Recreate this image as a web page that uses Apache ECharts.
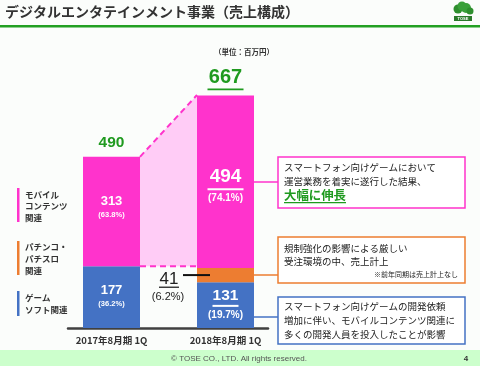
<!DOCTYPE html>
<html><head><meta charset="utf-8">
<script src="https://cdn.jsdelivr.net/npm/echarts@6/dist/echarts.min.js"></script>
<style>html,body{margin:0;padding:0;background:#fbfdfb}#c{width:480px;height:366px}</style>
</head><body><div id="c"></div>
<script>
// ---- data ----
const categories = ['2017年8月期 1Q', '2018年8月期 1Q'];
const gameSoft = [177, 131];
const gameSoftPct = ['36.2%', '19.7%'];
const pachinko = [null, 41];
const pachinkoPct = [null, '6.2%'];
const mobile = [313, 494];
const mobilePct = ['63.8%', '74.1%'];
const totals = [490, 667];
const legendMobile = ['モバイル', 'コンテンツ', '関連'];
const legendPachinko = ['パチンコ・', 'パチスロ', '関連'];
const legendGame = ['ゲーム', 'ソフト関連'];
const noteMobile = ['スマートフォン向けゲームにおいて', '運営業務を着実に遂行した結果、'];
const noteMobileEmph = '大幅に伸長';
const notePachinko = ['規制強化の影響による厳しい', '受注環境の中、売上計上'];
const notePachinkoSmall = '※前年同期は売上計上なし';
const noteGame = ['スマートフォン向けゲームの開発依頼', '増加に伴い、モバイルコンテンツ関連に', '多くの開発人員を投入したことが影響'];

const PINK = '#ff33cc', BLUE = '#4472c4', ORANGE = '#ed7d31', GREEN = '#1f9a1f';
const JP = '"Noto Sans CJK JP", sans-serif';
const NUM = '"Liberation Sans", Arial, sans-serif';

const xData = [categories[0], '', categories[1]];
const pos = [0, 2];

function seriesData(vals, labelFn) {
  const out = ['-', '-', '-'];
  vals.forEach((v, i) => {
    if (v == null) return;
    out[pos[i]] = { value: v, label: labelFn(i) };
  });
  return out;
}

function smallLabel(val, pct, off) {
  return {
    show: true, position: 'inside', offset: off || [0, 0],
    formatter: '{v|' + val + '}\n{p|(' + pct + ')}',
    rich: {
      v: { color: '#fff', fontFamily: NUM, fontWeight: 'bold', fontSize: 13, lineHeight: 15, align: 'center' },
      p: { color: '#fff', fontFamily: NUM, fontWeight: 'bold', fontSize: 7.5, lineHeight: 12, align: 'center' }
    }
  };
}
function bigLabel(val, pct, vs, uw, off) {
  return {
    show: true, position: 'inside', offset: off || [0, 0],
    formatter: '{v|' + val + '}\n{u|}\n{p|(' + pct + ')}',
    rich: {
      v: { color: '#fff', fontFamily: NUM, fontWeight: 'bold', fontSize: vs, lineHeight: vs + 1, align: 'center' },
      u: { width: uw, height: 2, backgroundColor: '#fff', align: 'center', lineHeight: 4 },
      p: { color: '#fff', fontFamily: NUM, fontWeight: 'bold', fontSize: 10, lineHeight: 15, align: 'center' }
    }
  };
}

const chart = echarts.init(document.getElementById('c'), null, { renderer: 'canvas' });

const graphics = [];
// title
graphics.push({ type: 'text', left: 5, top: 5, style: { text: 'デジタルエンタテインメント事業（売上構成）', font: 'bold 14px ' + JP, fill: '#333' } });
graphics.push({ type: 'rect', shape: { x: 0, y: 25, width: 480, height: 2.5 }, style: { fill: '#22a022' } });
// logo
graphics.push({ type: 'group', children: [
  { type: 'circle', shape: { cx: 458, cy: 9, r: 4.5 }, style: { fill: '#2e8f2e' } },
  { type: 'circle', shape: { cx: 466, cy: 8, r: 5 }, style: { fill: '#3aa03a' } },
  { type: 'circle', shape: { cx: 462, cy: 6, r: 4.5 }, style: { fill: '#3aa03a' } },
  { type: 'circle', shape: { cx: 470, cy: 11, r: 3.5 }, style: { fill: '#2e8f2e' } },
  { type: 'rect', shape: { x: 454, y: 16, width: 18, height: 5 }, style: { fill: '#2a7a2a' } },
  { type: 'text', style: { text: 'TOSE', x: 463, y: 18.5, font: 'bold 4px ' + NUM, fill: '#fff', align: 'center', verticalAlign: 'middle' } }
]});
// unit
graphics.push({ type: 'text', style: { text: '（単位：百万円）', x: 244, y: 52, font: 'bold 7.5px ' + JP, fill: '#333', align: 'center', verticalAlign: 'middle' } });
// left legend
function legendBlock(lines, color, y0, y1, ty) {
  graphics.push({ type: 'rect', shape: { x: 17, y: y0, width: 2.5, height: y1 - y0 }, style: { fill: color } });
  lines.forEach((t, i) => graphics.push({ type: 'text', style: { text: t, x: 25, y: ty + i * 11.7, font: 'bold 8.5px ' + JP, fill: '#333', verticalAlign: 'middle' } }));
}
legendBlock(legendMobile, PINK, 188, 222, 194.5);
legendBlock(legendPachinko, ORANGE, 241, 275, 247);
legendBlock(legendGame, BLUE, 291, 316, 298);
// note boxes
function box(x, y, w, h, color) {
  graphics.push({ type: 'rect', shape: { x: x, y: y, width: w, height: h }, style: { fill: '#fff', stroke: color, lineWidth: 1.5 } });
}
box(278, 157, 187, 51, PINK);
noteMobile.forEach((t, i) => graphics.push({ type: 'text', style: { text: t, x: 284, y: 167 + i * 14, font: '9.5px ' + JP, fill: '#222', verticalAlign: 'middle' } }));
graphics.push({ type: 'text', style: { text: noteMobileEmph, x: 284, y: 195, font: 'bold 12.4px ' + JP, fill: GREEN, verticalAlign: 'middle' } });
graphics.push({ type: 'rect', shape: { x: 284, y: 202, width: 62, height: 1.2 }, style: { fill: GREEN } });
graphics.push({ type: 'line', shape: { x1: 254, y1: 182, x2: 278, y2: 182 }, style: { stroke: PINK, lineWidth: 1.5 } });

box(278, 237, 187, 46, ORANGE);
notePachinko.forEach((t, i) => graphics.push({ type: 'text', style: { text: t, x: 284, y: 248 + i * 13.5, font: '9.5px ' + JP, fill: '#222', verticalAlign: 'middle' } }));
graphics.push({ type: 'text', style: { text: notePachinkoSmall, x: 458, y: 274.5, font: '7px ' + JP, fill: '#222', align: 'right', verticalAlign: 'middle' } });
graphics.push({ type: 'line', shape: { x1: 254, y1: 275, x2: 278, y2: 275 }, style: { stroke: ORANGE, lineWidth: 1.5 } });

box(278, 297, 187, 47, BLUE);
noteGame.forEach((t, i) => graphics.push({ type: 'text', style: { text: t, x: 284, y: 306.5 + i * 13.8, font: '9.5px ' + JP, fill: '#222', verticalAlign: 'middle' } }));
graphics.push({ type: 'line', shape: { x1: 254, y1: 317, x2: 278, y2: 317 }, style: { stroke: BLUE, lineWidth: 1.5 } });

// footer
graphics.push({ type: 'rect', shape: { x: 0, y: 350, width: 480, height: 16 }, style: { fill: '#ccffcc' } });
graphics.push({ type: 'text', style: { text: '© TOSE CO., LTD. All rights reserved.', x: 239, y: 358.5, font: '8px ' + NUM, fill: '#555', align: 'center', verticalAlign: 'middle' } });
graphics.push({ type: 'text', style: { text: '4', x: 466, y: 358.5, font: 'bold 8px ' + NUM, fill: '#333', align: 'center', verticalAlign: 'middle' } });

const option = {
  backgroundColor: '#fbfdfb',
  animation: false,
  grid: [
    { left: 83, right: 226, top: 83.5, bottom: 38 },
    { left: 68, right: 212, top: 83.5, bottom: 38 }
  ],
  xAxis: [
    { type: 'category', gridIndex: 0, data: xData, axisLine: { show: false }, axisTick: { show: false },
      axisLabel: { margin: 8, fontFamily: JP, fontWeight: 'bold', fontSize: 9.5, color: '#333', interval: 0 } },
    { type: 'value', gridIndex: 1, min: 0, max: 1, axisLine: { show: true, lineStyle: { color: '#404040', width: 2.5 } },
      axisTick: { show: false }, axisLabel: { show: false }, splitLine: { show: false } }
  ],
  yAxis: [
    { type: 'value', gridIndex: 0, min: 0, max: 700, show: false },
    { type: 'value', gridIndex: 1, min: 0, max: 700, show: false }
  ],
  graphic: graphics,
  series: [
    { type: 'bar', name: 'ゲームソフト関連', stack: 's', barWidth: '100%', itemStyle: { color: BLUE },
      data: seriesData(gameSoft, i => i === 0 ? smallLabel(gameSoft[i], gameSoftPct[i], [0, -1]) : bigLabel(gameSoft[i], gameSoftPct[i], 15.5, 26, [0, 0])) },
    { type: 'bar', name: 'パチンコ・パチスロ関連', stack: 's', barWidth: '100%', itemStyle: { color: ORANGE },
      data: seriesData(pachinko, i => ({ show: false })) },
    { type: 'bar', name: 'モバイルコンテンツ関連', stack: 's', barWidth: '100%', itemStyle: { color: PINK },
      data: seriesData(mobile, i => i === 0 ? smallLabel(mobile[i], mobilePct[i], [0, -4]) : bigLabel(mobile[i], mobilePct[i], 19, 36, [0, 5])) },
    { type: 'custom', name: 'growth', xAxisIndex: 0, yAxisIndex: 0, z: 1,
      data: [[1, totals[0], totals[1], gameSoft[0]]],
      encode: { x: 0, y: [1, 2, 3] },
      renderItem: function (params, api) {
        const bw = api.size([1, 0])[0];
        const c1 = api.coord([0, api.value(1)]);
        const c2 = api.coord([2, api.value(2)]);
        const cb = api.coord([0, api.value(3)]);
        const x1 = c1[0] + bw / 2, x2 = c2[0] - bw / 2;
        return { type: 'group', children: [
          { type: 'polygon', shape: { points: [[x1, c1[1]], [x2, c2[1]], [x2, cb[1]], [x1, cb[1]]] }, style: { fill: '#ffccf6' } },
          { type: 'line', shape: { x1: x1, y1: c1[1], x2: x2, y2: c2[1] }, style: { stroke: PINK, lineWidth: 2, lineDash: [6, 4] } },
          { type: 'line', shape: { x1: x1, y1: cb[1], x2: x2, y2: cb[1] }, style: { stroke: PINK, lineWidth: 2, lineDash: [6, 4] } }
        ]};
      } },
    { type: 'custom', name: 'totals', xAxisIndex: 0, yAxisIndex: 0, z: 5,
      data: totals.map((t, i) => [pos[i], t]),
      encode: { x: 0, y: 1 },
      renderItem: function (params, api) {
        const p = api.coord([api.value(0), api.value(1)]);
        const big = params.dataIndex === 1;
        const children = [{ type: 'text', style: { text: String(api.value(1)), x: p[0], y: p[1] - (big ? 18 : 14),
          font: 'bold ' + (big ? 20 : 15.5) + 'px ' + NUM, fill: GREEN, align: 'center', verticalAlign: 'middle' } }];
        if (big) children.push({ type: 'rect', shape: { x: p[0] - 18, y: p[1] - 6.5, width: 36, height: 1.8 }, style: { fill: GREEN } });
        return { type: 'group', children: children };
      } },
    { type: 'custom', name: 'pachinkoNote', xAxisIndex: 0, yAxisIndex: 0, z: 5,
      data: [[2, gameSoft[1], pachinko[1]]],
      encode: { x: 0, y: [1, 2] },
      renderItem: function (params, api) {
        const bw = api.size([1, 0])[0];
        const c = api.coord([2, api.value(1) + api.value(2) / 2]);
        const xl = c[0] - bw / 2;
        return { type: 'group', children: [
          { type: 'text', style: { text: String(api.value(2)), x: xl - 28, y: c[1] + 4, font: '17px ' + NUM, fill: '#222', align: 'center', verticalAlign: 'middle' } },
          { type: 'rect', shape: { x: xl - 38, y: c[1] + 11.5, width: 20, height: 1.3 }, style: { fill: '#222' } },
          { type: 'text', style: { text: '(' + pachinkoPct[1] + ')', x: xl - 29, y: c[1] + 22, font: '11px ' + NUM, fill: '#222', align: 'center', verticalAlign: 'middle' } },
          { type: 'line', shape: { x1: xl - 14, y1: c[1], x2: xl + 13, y2: c[1] }, style: { stroke: '#111', lineWidth: 2 } }
        ]};
      } }
  ]
};
chart.setOption(option);
</script>
</body></html>
